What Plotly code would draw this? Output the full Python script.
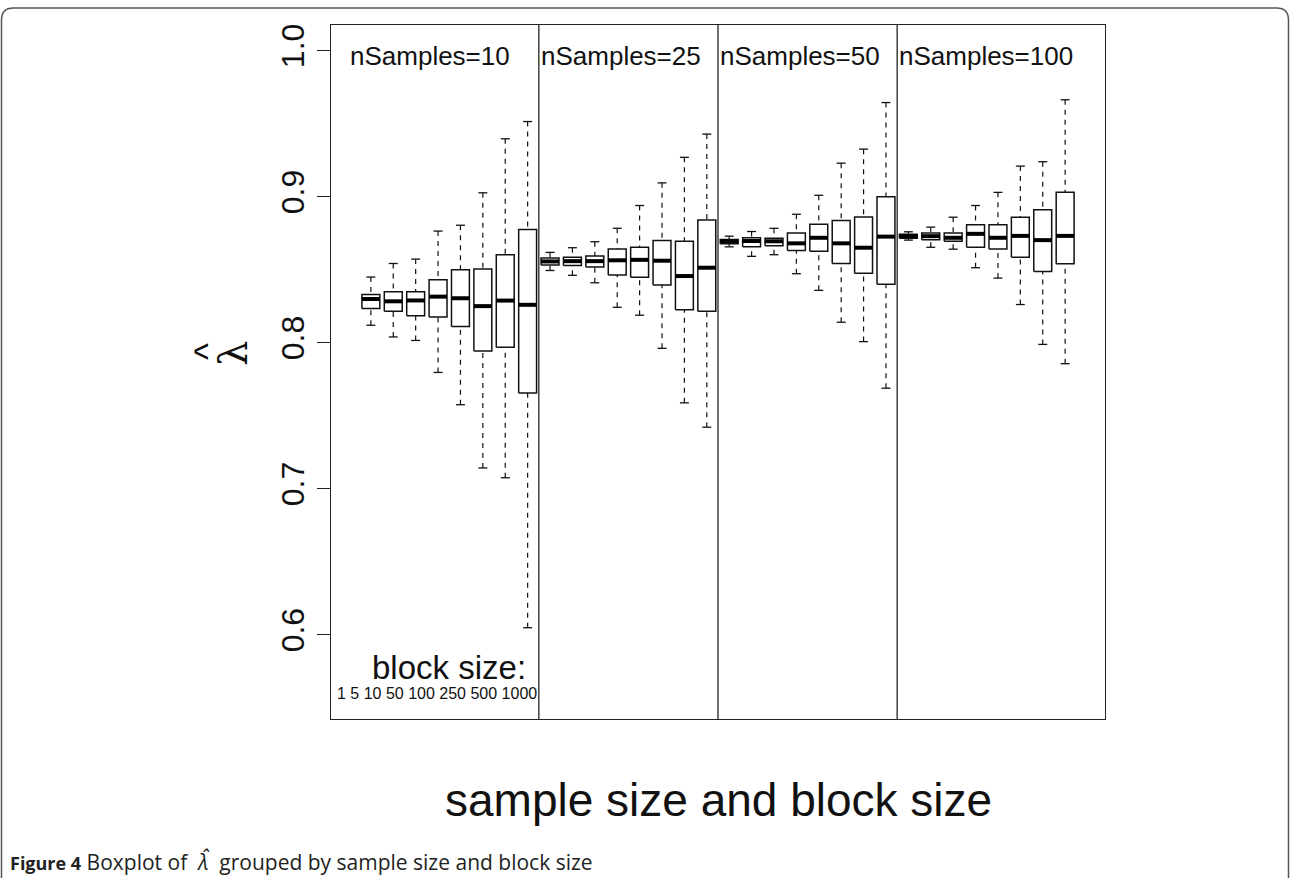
import numpy as np
import plotly.graph_objects as go

# ---------------- data ----------------
group_labels = ["nSamples=10", "nSamples=25", "nSamples=50", "nSamples=100"]
block_sizes = ["1", "5", "10", "50", "100", "250", "500", "1000"]

lower_whisker = [0.812, 0.804, 0.8016, 0.7797, 0.7576, 0.7143, 0.7076, 0.6049,
                 0.8495, 0.8462, 0.8411, 0.8243, 0.8189, 0.7962, 0.7589, 0.7422,
                 0.8657, 0.8592, 0.8603, 0.8473, 0.8359, 0.8141, 0.8008, 0.7689,
                 0.8703, 0.8654, 0.8641, 0.8514, 0.8443, 0.8262, 0.7989, 0.7857]
q1 = [0.8235, 0.8216, 0.8186, 0.8176, 0.8111, 0.7943, 0.797, 0.7657,
      0.8532, 0.853, 0.8519, 0.8465, 0.8449, 0.8395, 0.8227, 0.8216,
      0.8678, 0.8657, 0.8665, 0.8632, 0.8627, 0.8543, 0.8476, 0.840,
      0.8716, 0.8705, 0.8695, 0.8654, 0.8643, 0.8586, 0.8489, 0.8541]
median = [0.830, 0.8284, 0.829, 0.8316, 0.8305, 0.8251, 0.8289, 0.826,
          0.8557, 0.8559, 0.8559, 0.8565, 0.8568, 0.8562, 0.8457, 0.8514,
          0.8695, 0.8697, 0.8695, 0.8681, 0.8719, 0.8681, 0.8651, 0.8727,
          0.873, 0.873, 0.8719, 0.8746, 0.8719, 0.8732, 0.8703, 0.8732]
q3 = [0.833, 0.835, 0.835, 0.8432, 0.850, 0.8505, 0.8603, 0.8776,
      0.8581, 0.8586, 0.8595, 0.8643, 0.8654, 0.870, 0.8695, 0.884,
      0.8708, 0.8719, 0.8716, 0.8751, 0.8811, 0.8838, 0.8862, 0.900,
      0.8743, 0.8751, 0.8751, 0.8808, 0.8808, 0.8859, 0.8911, 0.903]
upper_whisker = [0.845, 0.8543, 0.8573, 0.8765, 0.8805, 0.9027, 0.9397, 0.9515,
                 0.8619, 0.8651, 0.8692, 0.8784, 0.894, 0.9095, 0.927, 0.9429,
                 0.873, 0.8762, 0.8784, 0.888, 0.901, 0.923, 0.9326, 0.9645,
                 0.876, 0.8792, 0.886, 0.894, 0.903, 0.921, 0.924, 0.9664]
y_ticks = [0.6, 0.7, 0.8, 0.9, 1.0]
y_tick_text = ["0.6", "0.7", "0.8", "0.9", "1.0"]
y_limits = [0.56, 1.0]

# ---------------- geometry / style ----------------
W, H = 1290, 878
L, R, T, B = 331, 1105, 25, 719          # plot frame in pixels
n_box = len(median)
pos = np.arange(1, n_box + 1)
n_per_group = len(block_sizes)
half_box = 0.4
half_cap = 0.2
x_range = [0.5 - 0.04 * n_box, n_box + 0.5 + 0.04 * n_box]
span = y_limits[1] - y_limits[0]
y_range = [y_limits[0] - 0.04 * span, y_limits[1] + 0.04 * span]
FONT = "Liberation Sans, Arial, Helvetica, sans-serif"

def px(xp):
    return (xp - L) / (R - L)

def py(yp):
    return (B - yp) / (B - T)

def seg_lists(x0s, x1s, y0s, y1s):
    xs, ys = [], []
    for a, b, c, d in zip(x0s, x1s, y0s, y1s):
        xs += [a, b, None]
        ys += [c, d, None]
    return xs, ys

fig = go.Figure()

# dashed whiskers (drawn from whisker end to box edge, like R's bxp)
wx, wy = seg_lists(list(pos) + list(pos), list(pos) + list(pos),
                   lower_whisker + upper_whisker, q1 + q3)
fig.add_trace(go.Scatter(x=wx, y=wy, mode="lines", hoverinfo="skip",
                         line=dict(color="#111", width=1.2, dash="5px,5px")))

# staples
cx, cy = seg_lists(list(pos - half_cap) * 2, list(pos + half_cap) * 2,
                   lower_whisker + upper_whisker, lower_whisker + upper_whisker)
fig.add_trace(go.Scatter(x=cx, y=cy, mode="lines", hoverinfo="skip",
                         line=dict(color="#111", width=1.3)))

# boxes
bx, by = [], []
for p, a, b in zip(pos, q1, q3):
    bx += [p - half_box, p + half_box, p + half_box, p - half_box, p - half_box, None]
    by += [a, a, b, b, a, None]
fig.add_trace(go.Scatter(x=bx, y=by, mode="lines", hoverinfo="skip",
                         line=dict(color="#111", width=1.5)))

# medians
mx, my = seg_lists(pos - half_box, pos + half_box, median, median)
fig.add_trace(go.Scatter(x=mx, y=my, mode="lines", hoverinfo="skip",
                         line=dict(color="#000", width=4)))

# group separators
for k in range(1, len(group_labels)):
    sep = k * n_per_group + 0.5
    fig.add_shape(type="line", xref="x", yref="paper", x0=sep, x1=sep, y0=0, y1=1,
                  line=dict(color="#222", width=1.3))

# group labels
label_x = [0.0] + [k * n_per_group + 0.5 for k in range(1, len(group_labels))]
for lx, txt in zip(label_x, group_labels):
    fig.add_annotation(x=lx, y=py(56), xref="x", yref="paper", text=txt,
                       showarrow=False, xanchor="left", yanchor="middle",
                       font=dict(family=FONT, size=26, color="#111"))

# block size labels
fig.add_annotation(x=4.5, y=py(667), xref="x", yref="paper", text="block size:",
                   showarrow=False, xanchor="center", yanchor="middle",
                   font=dict(family=FONT, size=33, color="#111"))
fig.add_annotation(x=px(335), y=py(693), xref="paper", yref="paper",
                   text=" ".join(block_sizes), showarrow=False,
                   xanchor="left", yanchor="middle",
                   font=dict(family=FONT, size=16, color="#111"))

# y axis title: lambda with hat (rotated, so the hat sits to the left)
fig.add_annotation(x=px(233), y=py(354), xref="paper", yref="paper", text="λ",
                   textangle=-90, showarrow=False, xanchor="center", yanchor="middle",
                   font=dict(family="DejaVu Serif", size=40, color="#111"))
fig.add_annotation(x=px(207), y=py(352), xref="paper", yref="paper", text="^",
                   textangle=-90, showarrow=False, xanchor="center", yanchor="middle",
                   font=dict(family=FONT, size=36, color="#111"))

# x axis title
fig.add_annotation(x=0.5, y=py(800), xref="paper", yref="paper",
                   text="sample size and block size", showarrow=False,
                   xanchor="center", yanchor="middle",
                   font=dict(family=FONT, size=46, color="#111"))

# caption
fig.add_annotation(x=px(8), y=py(862), xref="paper", yref="paper",
                   text=("<span style='font-size:18px'><b>Figure 4</b></span> Boxplot of "
                         " <i>λ\u0302</i>  grouped by sample size and block size"),
                   showarrow=False, xanchor="left", yanchor="middle",
                   font=dict(family="Open Sans", size=21, color="#222"))

# outer rounded border
r = 12
x0, x1 = px(1.5), px(W - 1.5)
yt, yb = py(8), py(H + 20)
rx, ry = r / (R - L), r / (B - T)
path = (f"M {x0},{yb} L {x0},{yt - ry} Q {x0},{yt} {x0 + rx},{yt} "
        f"L {x1 - rx},{yt} Q {x1},{yt} {x1},{yt - ry} L {x1},{yb}")
fig.add_shape(type="path", xref="paper", yref="paper", path=path,
              line=dict(color="#555", width=1.5))

fig.update_layout(
    width=W, height=H,
    margin=dict(l=L, r=W - R, t=T, b=H - B),
    paper_bgcolor="white", plot_bgcolor="white",
    showlegend=False,
    xaxis=dict(range=x_range, showgrid=False, zeroline=False, showticklabels=False,
               ticks="", showline=True, mirror=True, linecolor="#222", linewidth=1.3),
    yaxis=dict(range=y_range, showgrid=False, zeroline=False,
               tickvals=y_ticks, ticktext=y_tick_text, ticks="outside", ticklen=13,
               tickwidth=1.2, tickcolor="#222", tickangle=-90, ticklabelstandoff=0,
               tickfont=dict(family=FONT, size=32, color="#111"),
               showline=True, mirror=True, linecolor="#222", linewidth=1.3),
)

fig.write_html("out.html")
